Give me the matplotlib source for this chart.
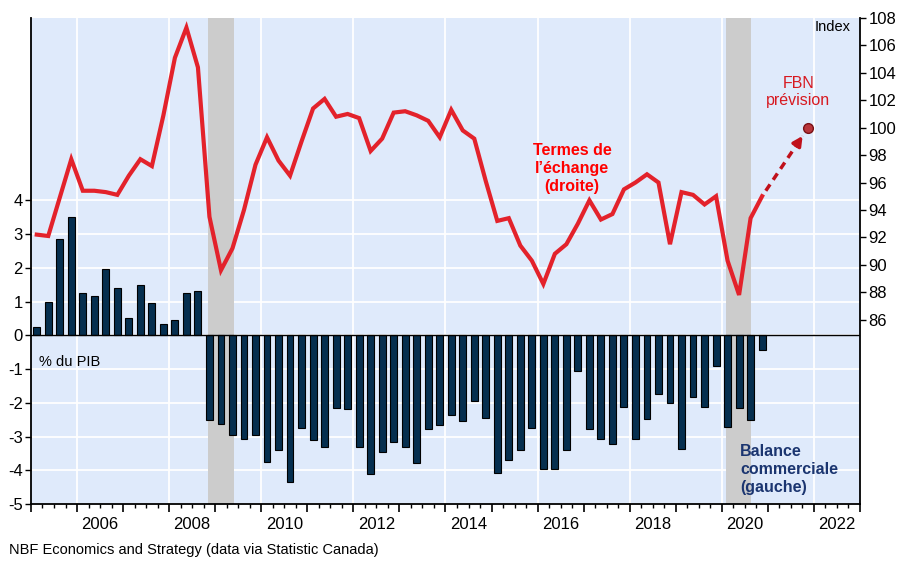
import numpy as np
import matplotlib.pyplot as plt
import matplotlib.transforms as mtransforms

plt.rcParams['font.family'] = ['Liberation Sans', 'DejaVu Sans']

# quarterly data, 2005Q1 .. 2020Q4
start_year = 2005
# trade balance, % of GDP (left axis)
balance = [0.25, 1.0, 2.85, 3.5,
           1.25, 1.15, 1.95, 1.4,
           0.5, 1.5, 0.95, 0.33,
           0.45, 1.25, 1.32, -2.50,
           -2.62, -2.96, -3.08, -2.96,
           -3.75, -3.40, -4.34, -2.74,
           -3.11, -3.32, -2.15, -2.19,
           -3.32, -4.11, -3.45, -3.16,
           -3.32, -3.79, -2.78, -2.66,
           -2.37, -2.53, -1.94, -2.45,
           -4.08, -3.70, -3.40, -2.74,
           -3.95, -3.95, -3.40, -1.06,
           -2.78, -3.08, -3.21, -2.12,
           -3.08, -2.49, -1.74, -2.02,
           -3.36, -1.82, -2.12, -0.90,
           -2.71, -2.15, -2.50, -0.44]
# terms of trade index (right axis)
terms = [92.2, 92.1, 94.9, 97.7,
         95.4, 95.4, 95.3, 95.1,
         96.5, 97.7, 97.2, 100.9,
         105.1, 107.3, 104.4, 93.5,
         89.6, 91.2, 94.0, 97.3,
         99.3, 97.6, 96.5, 99.0,
         101.4, 102.1, 100.8, 101.0,
         100.7, 98.3, 99.2, 101.1,
         101.2, 100.9, 100.5, 99.3,
         101.3, 99.8, 99.2, 96.1,
         93.2, 93.4, 91.4, 90.3,
         88.6, 90.8, 91.5, 93.0,
         94.7, 93.3, 93.7, 95.5,
         96.0, 96.6, 96.0, 91.5,
         95.3, 95.1, 94.4, 95.0,
         90.3, 87.8, 93.4, 95.0]
# NBF forecast (2021Q4)
forecast_quarter = 2021.875
forecast_value = 100.0

recessions = [(2008.85, 2009.4), (2020.1, 2020.63)]
year_labels = [2006, 2008, 2010, 2012, 2014, 2016, 2018, 2020, 2022]
left_ticks = [-5, -4, -3, -2, -1, 0, 1, 2, 3, 4]
right_ticks = list(range(86, 109, 2))

red = '#e3222b'
navy = '#062f4f'
bg = '#dfeafb'

xq = start_year + (np.arange(len(balance)) + 0.5) / 4

fig = plt.figure(figsize=(9.06, 5.63), dpi=100)
ax = fig.add_axes([0.0342, 0.1048, 0.915, 0.8632])
ax.set_facecolor(bg)
ax.set_xlim(2005, 2023)
ax.set_ylim(-5, 9.4)

# grid
ax.set_axisbelow(True)
ax.set_yticks(left_ticks)
ax.set_yticklabels([str(t) for t in left_ticks], fontsize=12)
ax.yaxis.grid(True, color='white', lw=1.3, zorder=0.5)
for y in year_labels:
    ax.axvline(y, color='white', lw=1.3, zorder=0.5)

for a, b in recessions:
    ax.axvspan(a, b, color='#cccccc', lw=0, zorder=1)

ax.bar(xq, balance, width=0.15, color=navy, edgecolor='black', lw=0.8, zorder=2)
ax.axhline(0, color='black', lw=1, zorder=3)

# x axis ticks: years (major) and quarters (minor)
ax.set_xticks(np.arange(2005, 2024))
ax.set_xticks(np.arange(2005, 2023.01, 0.25), minor=True)
ax.set_xticklabels([])
ax.tick_params(axis='x', which='major', length=6, width=1.2, direction='out')
ax.tick_params(axis='x', which='minor', length=3, width=1, direction='out')
ax.tick_params(axis='y', length=4, width=1, direction='out', pad=2)
trans = mtransforms.blended_transform_factory(ax.transData, ax.transAxes)
for y in year_labels:
    ax.text(y + 0.5, -0.043, str(y), transform=trans, ha='center', va='center',
            fontsize=12)

ax.spines['top'].set_visible(False)
ax.spines['right'].set_visible(False)
for s in ['left', 'bottom']:
    ax.spines[s].set_linewidth(1.3)

# right axis: terms of trade
ax2 = ax.twinx()
ax2.set_ylim(72.55, 108)
ax2.set_yticks(right_ticks)
ax2.set_yticklabels([str(t) for t in right_ticks], fontsize=12)
ax2.tick_params(axis='y', length=4, width=1, direction='out', pad=2)
for s in ['top', 'left', 'bottom']:
    ax2.spines[s].set_visible(False)
ax2.spines['right'].set_linewidth(1.3)

ax2.plot(xq, terms, color=red, lw=3, solid_joinstyle='miter', zorder=4)

# dashed arrow toward forecast
x0, y0 = xq[-1], terms[-1]
x1, y1 = forecast_quarter, forecast_value
xa, ya = x0 + 0.08 * (x1 - x0), y0 + 0.08 * (y1 - y0)
xb, yb = x0 + 0.88 * (x1 - x0), y0 + 0.88 * (y1 - y0)
ax2.plot([xa, xb], [ya, yb], color='#c0101a', lw=2.5, ls=(0, (2.2, 1.6)), zorder=4)
ax2.annotate('', xy=(xb, yb), xytext=(x0 + 0.76 * (x1 - x0), y0 + 0.76 * (y1 - y0)),
             arrowprops=dict(arrowstyle='-|>,head_length=0.55,head_width=0.28',
                             color='#c0101a', lw=2.5, shrinkA=0, shrinkB=0),
             zorder=4)
ax2.plot([x1], [y1], marker='o', ms=7, mfc='#b8343a', mec='#7a1015', mew=1,
         zorder=5)

# annotations
ax2.text(2021.66, 102.6, 'FBN\nprévision', color='#d71920', fontsize=11.5,
         ha='center', va='center', linespacing=1.2)
ax2.text(2016.75, 97.05, 'Termes de\nl\u2019échange\n(droite)', color='#ff0000',
         fontsize=11.5, fontweight='bold', ha='center', va='center', linespacing=1.25)
ax.text(2020.4, -3.97, 'Balance\ncommerciale\n(gauche)', color='#1b3570',
        fontsize=11.5, fontweight='bold', ha='left', va='center', linespacing=1.25)
ax.text(2005.17, -0.8, '% du PIB', fontsize=10.5, ha='left', va='center')
ax2.text(0.989, 0.995, 'Index', transform=ax2.transAxes, fontsize=10.5,
         ha='right', va='top')

fig.text(0.01, 0.023, 'NBF Economics and Strategy (data via Statistic Canada)',
         fontsize=10.5, ha='left', va='center')

fig.savefig('out.png', dpi=100)
